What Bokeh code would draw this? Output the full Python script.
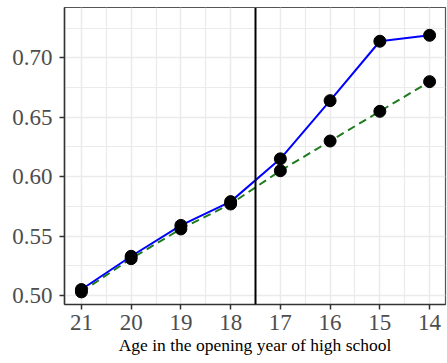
from bokeh.plotting import figure
from bokeh.models import Range1d, FixedTicker, PrintfTickFormatter, Span
from bokeh.embed import file_html
from bokeh.resources import INLINE

ages = [21, 20, 19, 18, 17, 16, 15, 14]
actual = [0.505, 0.533, 0.559, 0.579, 0.615, 0.664, 0.714, 0.719]
trend = [0.503, 0.531, 0.556, 0.577, 0.605, 0.630, 0.655, 0.680]
y_ticks = [0.50, 0.55, 0.60, 0.65, 0.70]
y_minor = [0.475, 0.525, 0.575, 0.625, 0.675, 0.725]
x_minor = [20.5, 19.5, 18.5, 17.5, 16.5, 15.5, 14.5]
cutoff = 17.5
x_title = "Age in the opening year of high school"

p = figure(width=447, height=363, output_backend="svg", toolbar_location=None,
           x_range=Range1d(21.34, 13.68), y_range=Range1d(0.4924, 0.7424),
           min_border_left=64, min_border_right=2, min_border_top=7, min_border_bottom=59)
p.background_fill_color = "white"
p.border_fill_color = "white"
p.outline_line_color = "#555555"
p.outline_line_width = 1.2

p.xaxis.ticker = FixedTicker(ticks=ages, minor_ticks=x_minor)
p.yaxis.ticker = FixedTicker(ticks=y_ticks, minor_ticks=y_minor)
p.yaxis.formatter = PrintfTickFormatter(format="%.2f")

for ax in (p.xaxis, p.yaxis):
    ax.axis_line_color = "#333333"
    ax.axis_line_width = 1.5
    ax.major_tick_line_color = "#333333"
    ax.major_tick_line_width = 1.5
    ax.major_tick_out = 5
    ax.major_tick_in = 0
    ax.minor_tick_line_color = None
    ax.major_label_text_font = "Liberation Serif"
    ax.major_label_text_font_size = "23px"
    ax.major_label_text_color = "#4D4D4D"
p.xaxis.major_label_standoff = 5
p.yaxis.major_label_standoff = 7

p.xaxis.axis_label = x_title
p.xaxis.axis_label_text_font = "Liberation Serif"
p.xaxis.axis_label_text_font_size = "17.5px"
p.xaxis.axis_label_text_font_style = "normal"
p.xaxis.axis_label_text_color = "black"
p.xaxis.axis_label_standoff = 2

for g in (p.xgrid, p.ygrid):
    g.grid_line_color = "#EBEBEB"
    g.grid_line_width = 1.5
    g.minor_grid_line_color = "#EBEBEB"
    g.minor_grid_line_width = 1.2

p.line(ages, trend, line_color="#1E7B1E", line_width=2, line_dash="8 5")
p.line(ages, actual, line_color="#0000FF", line_width=2)
p.add_layout(Span(location=cutoff, dimension="height", line_color="black", line_width=2))
p.scatter(ages, trend, size=12, fill_color="black", line_color="black")
p.scatter(ages, actual, size=12, fill_color="black", line_color="black")

open("out.html", "w").write(file_html(p, INLINE))
